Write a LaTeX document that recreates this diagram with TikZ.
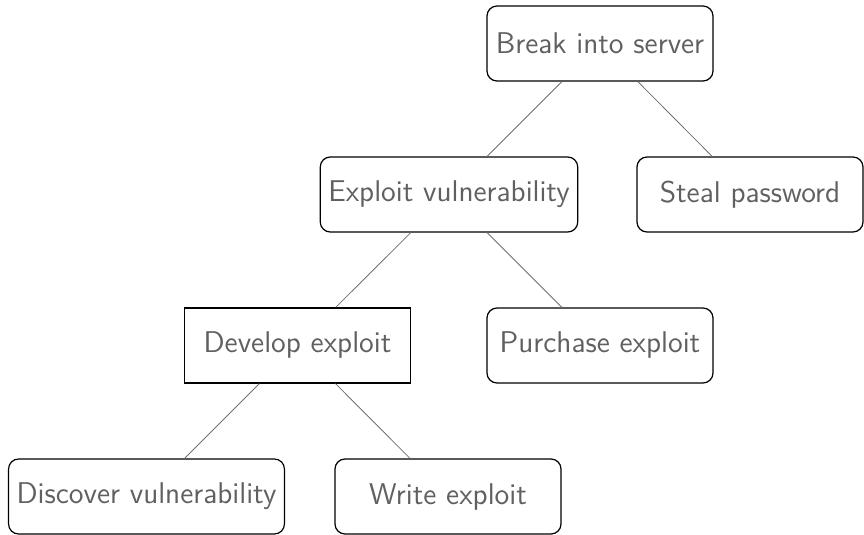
\documentclass[tikz,border=0pt]{standalone}
\usepackage{tikz}
\definecolor{labelgray}{HTML}{606060}
\definecolor{linkgray}{HTML}{707070}
\begin{document}
\begin{tikzpicture}[x=0.5pt,y=-0.5pt,
  goal/.style={draw=black, line width=0.6pt, rounded corners=5pt,
    minimum width=113pt, minimum height=37.5pt, inner sep=4pt,
    text=labelgray, font=\fontsize{15}{18}\selectfont\sffamily},
  plain/.style={goal, rounded corners=0pt},
  link/.style={draw=linkgray, line width=0.4pt}]
\useasboundingbox (0,0) rectangle (864,535);
\node[goal]  (break)    at (600,43.5)  {Break into server};
\node[goal]  (exploit)  at (449,194.5) {Exploit vulnerability};
\node[goal]  (steal)    at (750,194.5) {Steal password};
\node[plain] (develop)  at (297.5,345.5) {Develop exploit};
\node[goal]  (purchase) at (600,345.5) {Purchase exploit};
\node[goal]  (discover) at (146.5,496.5) {Discover vulnerability};
\node[goal]  (write)    at (448,496.5) {Write exploit};
\draw[link] (break) -- (exploit);
\draw[link] (break) -- (steal);
\draw[link] (exploit) -- (develop);
\draw[link] (exploit) -- (purchase);
\draw[link] (develop) -- (discover);
\draw[link] (develop) -- (write);
\end{tikzpicture}
\end{document}
